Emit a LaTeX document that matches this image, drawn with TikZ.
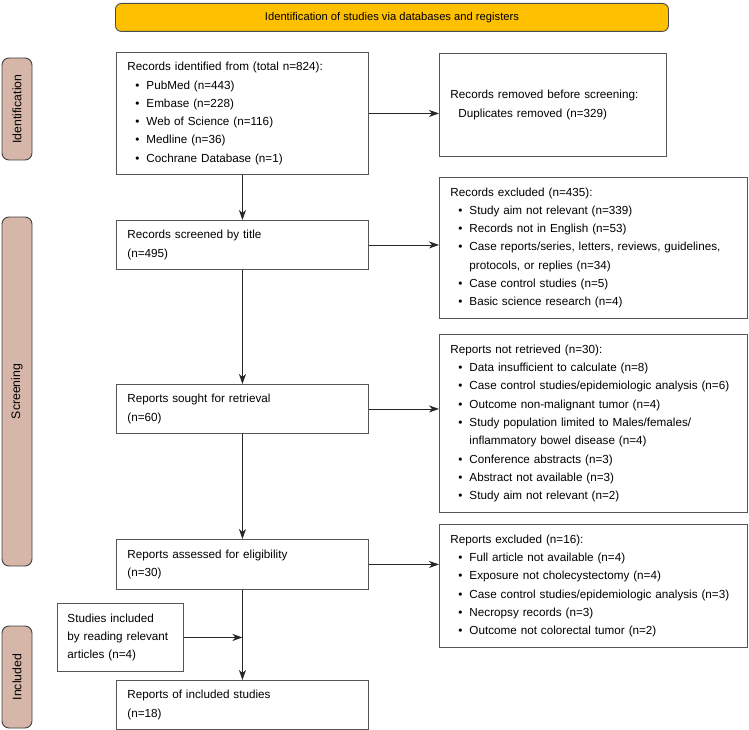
\documentclass[tikz,border=0pt]{standalone}
\usepackage{fontspec}
\setmainfont{Liberation Sans}
\usepackage{xcolor}
\usetikzlibrary{arrows.meta}

\definecolor{headfill}{RGB}{255,192,0}
\definecolor{stagefill}{RGB}{214,182,168}
\definecolor{boxline}{RGB}{85,85,85}
\newcommand{\bul}{\hspace*{8pt}\makebox[11pt][l]{\textbullet}}
\newcommand{\cont}{\hspace*{19pt}}

\begin{document}
\begin{tikzpicture}[x=1pt,y=-1pt,
        txt/.style={font=\fontsize{11.7}{18.3}\selectfont},
        box/.style={draw=boxline,line width=0.9pt,anchor=north west,align=left,inner xsep=11pt,inner ysep=0pt,txt},
        stage/.style={draw=black!75,fill=stagefill,rounded corners=7pt,rotate=90,minimum height=30pt,inner sep=0pt,line width=0.9pt,font=\fontsize{12.3}{14}\selectfont},
        arr/.style={draw=black!85,line width=0.9pt,-{Stealth[length=10pt,width=7pt,inset=3pt]}}]

        \useasboundingbox (0,0) rectangle (749,730);

        \node[draw=black!70,fill=headfill,rounded corners=6pt,line width=0.9pt,minimum width=553pt,minimum height=28pt,anchor=north west,font=\fontsize{11.2}{13}\selectfont] (head) at (115,3) {Identification of studies via databases and registers};

        \node[stage,minimum width=102pt] (ident) at (17,109) {Identification};
        \node[stage,minimum width=349pt] (screen) at (17,391.5) {Screening};
        \node[stage,minimum width=102pt] (incl) at (17,677) {Included};

        \node[box,text width=230pt,minimum height=122pt] (idbox) at (116,52) {Records identified from (total n=824):\\
            \bul PubMed (n=443)\\
            \bul Embase (n=228)\\
            \bul Web of Science (n=116)\\
            \bul Medline (n=36)\\
            \bul Cochrane Database (n=1)};
        \node[box,text width=205pt,minimum height=103pt] (remdbox) at (439,53) {Records removed before screening:\\
            \hspace*{8pt}Duplicates removed (n=329)};

        \node[box,text width=230pt,minimum height=49pt] (scrbox) at (116,220) {Records screened by title\\(n=495)};
        \node[box,text width=286pt,minimum height=141pt] (excbox) at (439,177) {Records excluded (n=435):\\
            \bul Study aim not relevant (n=339)\\
            \bul Records not in English (n=53)\\
            \bul Case reports/series, letters, reviews, guidelines,\\
            \cont protocols, or replies (n=34)\\
            \bul Case control studies (n=5)\\
            \bul Basic science research (n=4)};

        \node[box,text width=230pt,minimum height=49pt] (soughtbox) at (116,384) {Reports sought for retrieval\\(n=60)};
        \node[box,text width=286pt,minimum height=178pt] (notretbox) at (439,334) {Reports not retrieved (n=30):\\
            \bul Data insufficient to calculate (n=8)\\
            \bul Case control studies/epidemiologic analysis (n=6)\\
            \bul Outcome non-malignant tumor (n=4)\\
            \bul Study population limited to Males/females/\\
            \cont inflammatory bowel disease (n=4)\\
            \bul Conference abstracts (n=3)\\
            \bul Abstract not available (n=3)\\
            \bul Study aim not relevant (n=2)};

        \node[box,text width=230pt,minimum height=50pt] (elibox) at (116,539) {Reports assessed for eligibility\\(n=30)};
        \node[box,text width=286pt,minimum height=123pt] (repexbox) at (439,524) {Reports excluded (n=16):\\
            \bul Full article not available (n=4)\\
            \bul Exposure not cholecystectomy (n=4)\\
            \bul Case control studies/epidemiologic analysis (n=3)\\
            \bul Necropsy records (n=3)\\
            \bul Outcome not colorectal tumor (n=2)};

        \node[box,inner xsep=10pt,text width=106pt,minimum height=68pt] (otherbox) at (57,603) {Studies included\\by reading relevant\\articles (n=4)};
        \node[box,text width=230pt,minimum height=49pt] (inclbox) at (116,680) {Reports of included studies\\(n=18)};

        \draw[arr] (idbox.south) -- (scrbox.north);
        \draw[arr] (scrbox.south) -- (soughtbox.north);
        \draw[arr] (soughtbox.south) -- (elibox.north);
        \draw[arr] (elibox.south) -- (inclbox.north);
        \draw[arr] (idbox.east) -- (idbox.east -| remdbox.west);
        \draw[arr] (scrbox.east) -- (scrbox.east -| excbox.west);
        \draw[arr] (soughtbox.east) -- (soughtbox.east -| notretbox.west);
        \draw[arr] (elibox.east) -- (elibox.east -| repexbox.west);
        \draw[arr] (otherbox.east) -- (otherbox.east -| inclbox.north);
    \end{tikzpicture}
\end{document}
